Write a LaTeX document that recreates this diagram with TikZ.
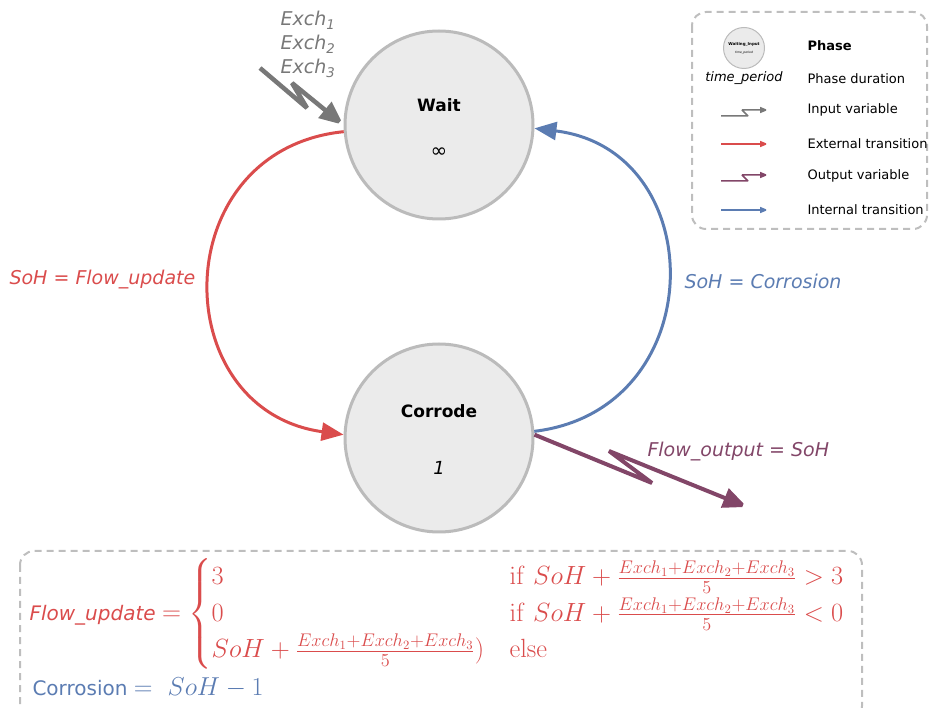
\documentclass[tikz,border=0pt]{standalone}
\usepackage{amsmath}
\usepackage[no-math]{fontspec}
\setmainfont{DejaVu Sans}
\usetikzlibrary{arrows.meta,positioning}
\definecolor{cRed}{RGB}{218,76,76}
\definecolor{cBlue}{RGB}{91,124,178}
\definecolor{cPurple}{RGB}{130,70,104}
\definecolor{cGray}{RGB}{120,120,120}
\definecolor{cText}{RGB}{120,120,120}
\definecolor{cRim}{RGB}{187,187,187}
\definecolor{cFill}{RGB}{235,235,235}
\definecolor{cDash}{RGB}{190,190,190}

\begin{document}
\begin{tikzpicture}[
	x=1pt, y=-1pt,
	phase/.style={
		circle, draw=cRim, fill=cFill, line width=3pt,
		minimum size=188pt, inner sep=0pt
	},
	lbl/.style={anchor=west, font=\fontsize{19}{21}\selectfont\itshape},
	leg/.style={anchor=west, font=\fontsize{13}{15}\selectfont},
	trans/.style={line width=3pt, -{Triangle[length=22pt,width=18pt]}},
	zig/.style={line width=4.5pt, miter limit=2, -{Triangle[length=24pt,width=20pt]}},
	legarrow/.style={line width=1.5pt, miter limit=2, -{Triangle[length=8pt,width=6pt]}},
	box/.style={draw=cDash, line width=2pt, dash pattern=on 7pt off 5pt, rounded corners=14pt}
	]
	\useasboundingbox (0,0) rectangle (930,708);

	% phases
	\node[phase] (wait) at (439,125) {};
	\node[font=\fontsize{17}{20}\selectfont\bfseries] (waitName) at ([yshift=20pt]wait.center) {Wait};
	\node[font=\fontsize{20}{22}\selectfont] (waitTime) at ([yshift=-28pt]wait.center) {∞};
	\node[phase] (corrode) at (439,438) {};
	\node[font=\fontsize{17}{20}\selectfont\bfseries] (corrodeName) at ([yshift=27pt]corrode.center) {Corrode};
	\node[font=\fontsize{18}{20}\selectfont\itshape] (corrodeTime) at ([yshift=-30pt]corrode.center) {1};

	% transitions
	\draw[trans, cRed] (wait.184) .. controls (165,150) and (165,410) .. (corrode.178);
	\draw[trans, cBlue] (corrode.4) .. controls (712,410) and (712,150) .. (wait.-2);
	\node[lbl, text=cRed] (extLbl) at (6,280) {SoH = Flow\_update};
	\node[lbl, text=cBlue] (intLbl) at (681,281) {SoH = Corrosion};

	% input variables
	\foreach \i/\y in {1/20,2/44,3/68}
	\node[font=\fontsize{19}{21}\selectfont\itshape, text=cText] (exch\i) at (308,\y) {Exch\textsubscript{\i}};
	\coordinate (inStart) at (260,68);
	\coordinate (inA) at (307,108);
	\coordinate (inB) at (292,83);
	\draw[zig, cGray] (inStart) -- (inA) -- (inB) -- (wait.west);

	% output variable
	\coordinate (outA) at (652,483);
	\coordinate (outB) at (609,451);
	\coordinate (outEnd) at (747,507);
	\draw[zig, cPurple, line width=4pt] (corrode.2) -- (outA) -- (outB) -- (outEnd);
	\node[lbl, text=cPurple] (outLbl) at (644,452) {Flow\_output = SoH};

	% legend
	\draw[box] (692,12) rectangle (927,229);
	\node[phase, line width=1pt, minimum size=41pt] (legPhase) at (744,48) {};
	\node[font=\fontsize{4}{4}\selectfont\bfseries, inner sep=0pt] at ([yshift=4pt]legPhase.center) {Waiting\_Input};
	\node[font=\fontsize{3}{3}\selectfont\itshape, inner sep=0pt] at ([yshift=-5pt]legPhase.center) {time\_period};
	\node[font=\fontsize{13}{15}\selectfont\itshape] (legTime) at (744,78) {time\_period};
	\node[leg] (legName) at (804,46) {\textbf{Phase}};
	\node[leg] (legDur) at (804,79) {Phase duration};
	\node[leg] (legIn) at (804,110) {Input variable};
	\node[leg] (legExt) at (804,144) {External transition};
	\node[leg] (legOut) at (804,176) {Output variable};
	\node[leg] (legInt) at (804,210) {Internal transition};
	\foreach \n/\y in {in/116,out/181}{
		\coordinate (\n L) at (721,\y);
		\coordinate (\n M) at (748,\y);
		\coordinate (\n N) at (742,\y-6);
		\coordinate (\n R) at (768,\y-6);
	}
	\draw[legarrow, cGray] (inL) -- (inM) -- (inN) -- (inR);
	\draw[legarrow, cPurple] (outL) -- (outM) -- (outN) -- (outR);
	\foreach \n/\y/\c in {ext/144/cRed,int/210/cBlue}{
		\coordinate (\n L) at (721,\y);
		\coordinate (\n R) at (768,\y);
		\draw[legarrow, \c] (\n L) -- (\n R);
	}

	% equations
	\draw[box] (20,551) rectangle (862,720);
	\node[anchor=west, text=cRed, font=\fontsize{20}{24}\selectfont] (flowEq) at (26,614)
	{\textit{Flow\_update} \scalebox{1.27}{$=\begin{cases}
		3 & \mathrm{if}\ SoH+\frac{Exch_1+Exch_2+Exch_3}{5}>3\\
		0 & \mathrm{if}\ SoH+\frac{Exch_1+Exch_2+Exch_3}{5}<0\\
		SoH+\frac{Exch_1+Exch_2+Exch_3}{5}) & \mathrm{else}
	\end{cases}$}};
	\node[anchor=west, text=cBlue, font=\fontsize{20}{22}\selectfont] (corrEq) at (29,688) {Corrosion \scalebox{1.25}{$=\ SoH-1$}};
\end{tikzpicture}
\end{document}
